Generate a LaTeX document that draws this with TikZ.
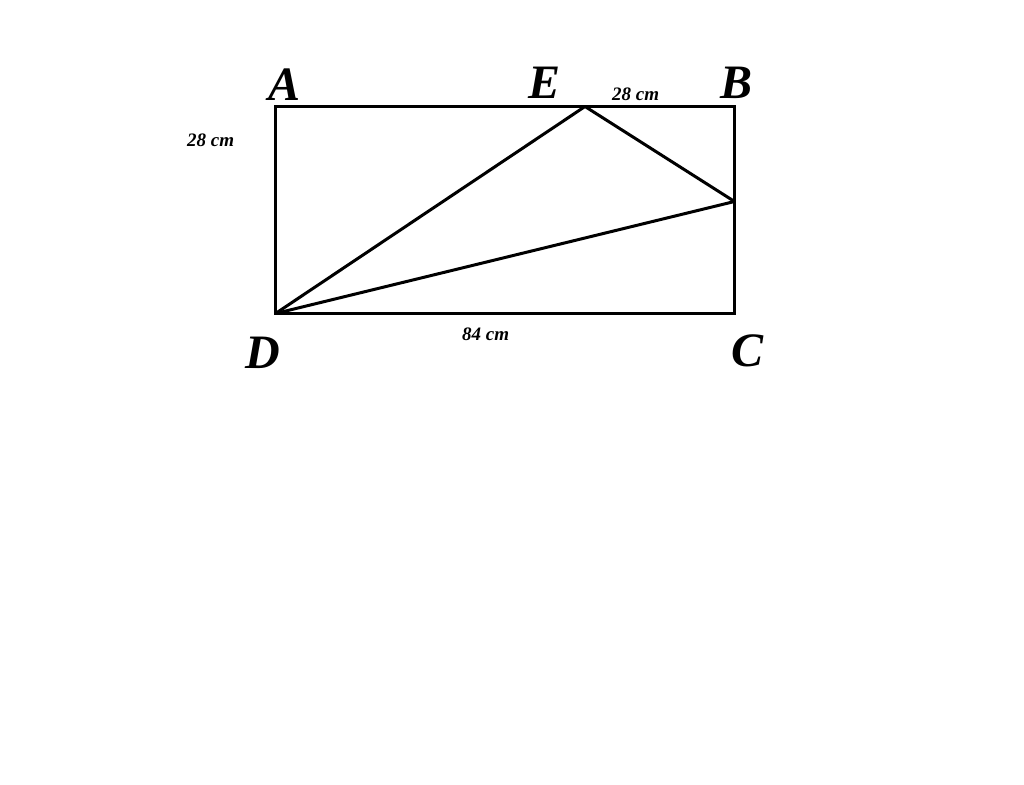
\documentclass[tikz,border=0pt]{standalone}
\usepackage{fontspec}
\setmainfont{Liberation Serif}
\begin{document}
\begin{tikzpicture}[x=1pt,y=-1pt,
  edge/.style={line width=3pt,line join=miter,line cap=rect},
  diag/.style={line width=3pt,line cap=round},
  vlabel/.style={inner sep=0pt,anchor=base west,font=\fontsize{48}{48}\selectfont\bfseries\itshape},
  mlabel/.style={inner sep=0pt,anchor=base west,font=\fontsize{19}{19}\selectfont\bfseries\itshape}]
\useasboundingbox[fill=white] (0,0) rectangle (1024,784);
\coordinate (A) at (275.5,106.5);
\coordinate (B) at (734.5,106.5);
\coordinate (C) at (734.5,313.5);
\coordinate (D) at (275.5,313.5);
\coordinate (E) at (585,106.5);
\coordinate (F) at (734.5,201.5);
\draw[edge] (A) -- (B) -- (C) -- (D) -- cycle;
\draw[diag] (D) -- (E);
\draw[diag] (E) -- (F);
\draw[diag] (D) -- (F);
\node[vlabel] (lA) at (268,100.5) {A};
\node[vlabel] (lE) at (528,98.5) {E};
\node[vlabel] (lB) at (720,98.5) {B};
\node[vlabel] (lD) at (245,368) {D};
\node[vlabel] (lC) at (731,366) {C};
\node[mlabel] (l1) at (187,146) {28 cm};
\node[mlabel] (l2) at (612,100) {28 cm};
\node[mlabel] (l3) at (462,340.5) {84 cm};
\end{tikzpicture}
\end{document}
